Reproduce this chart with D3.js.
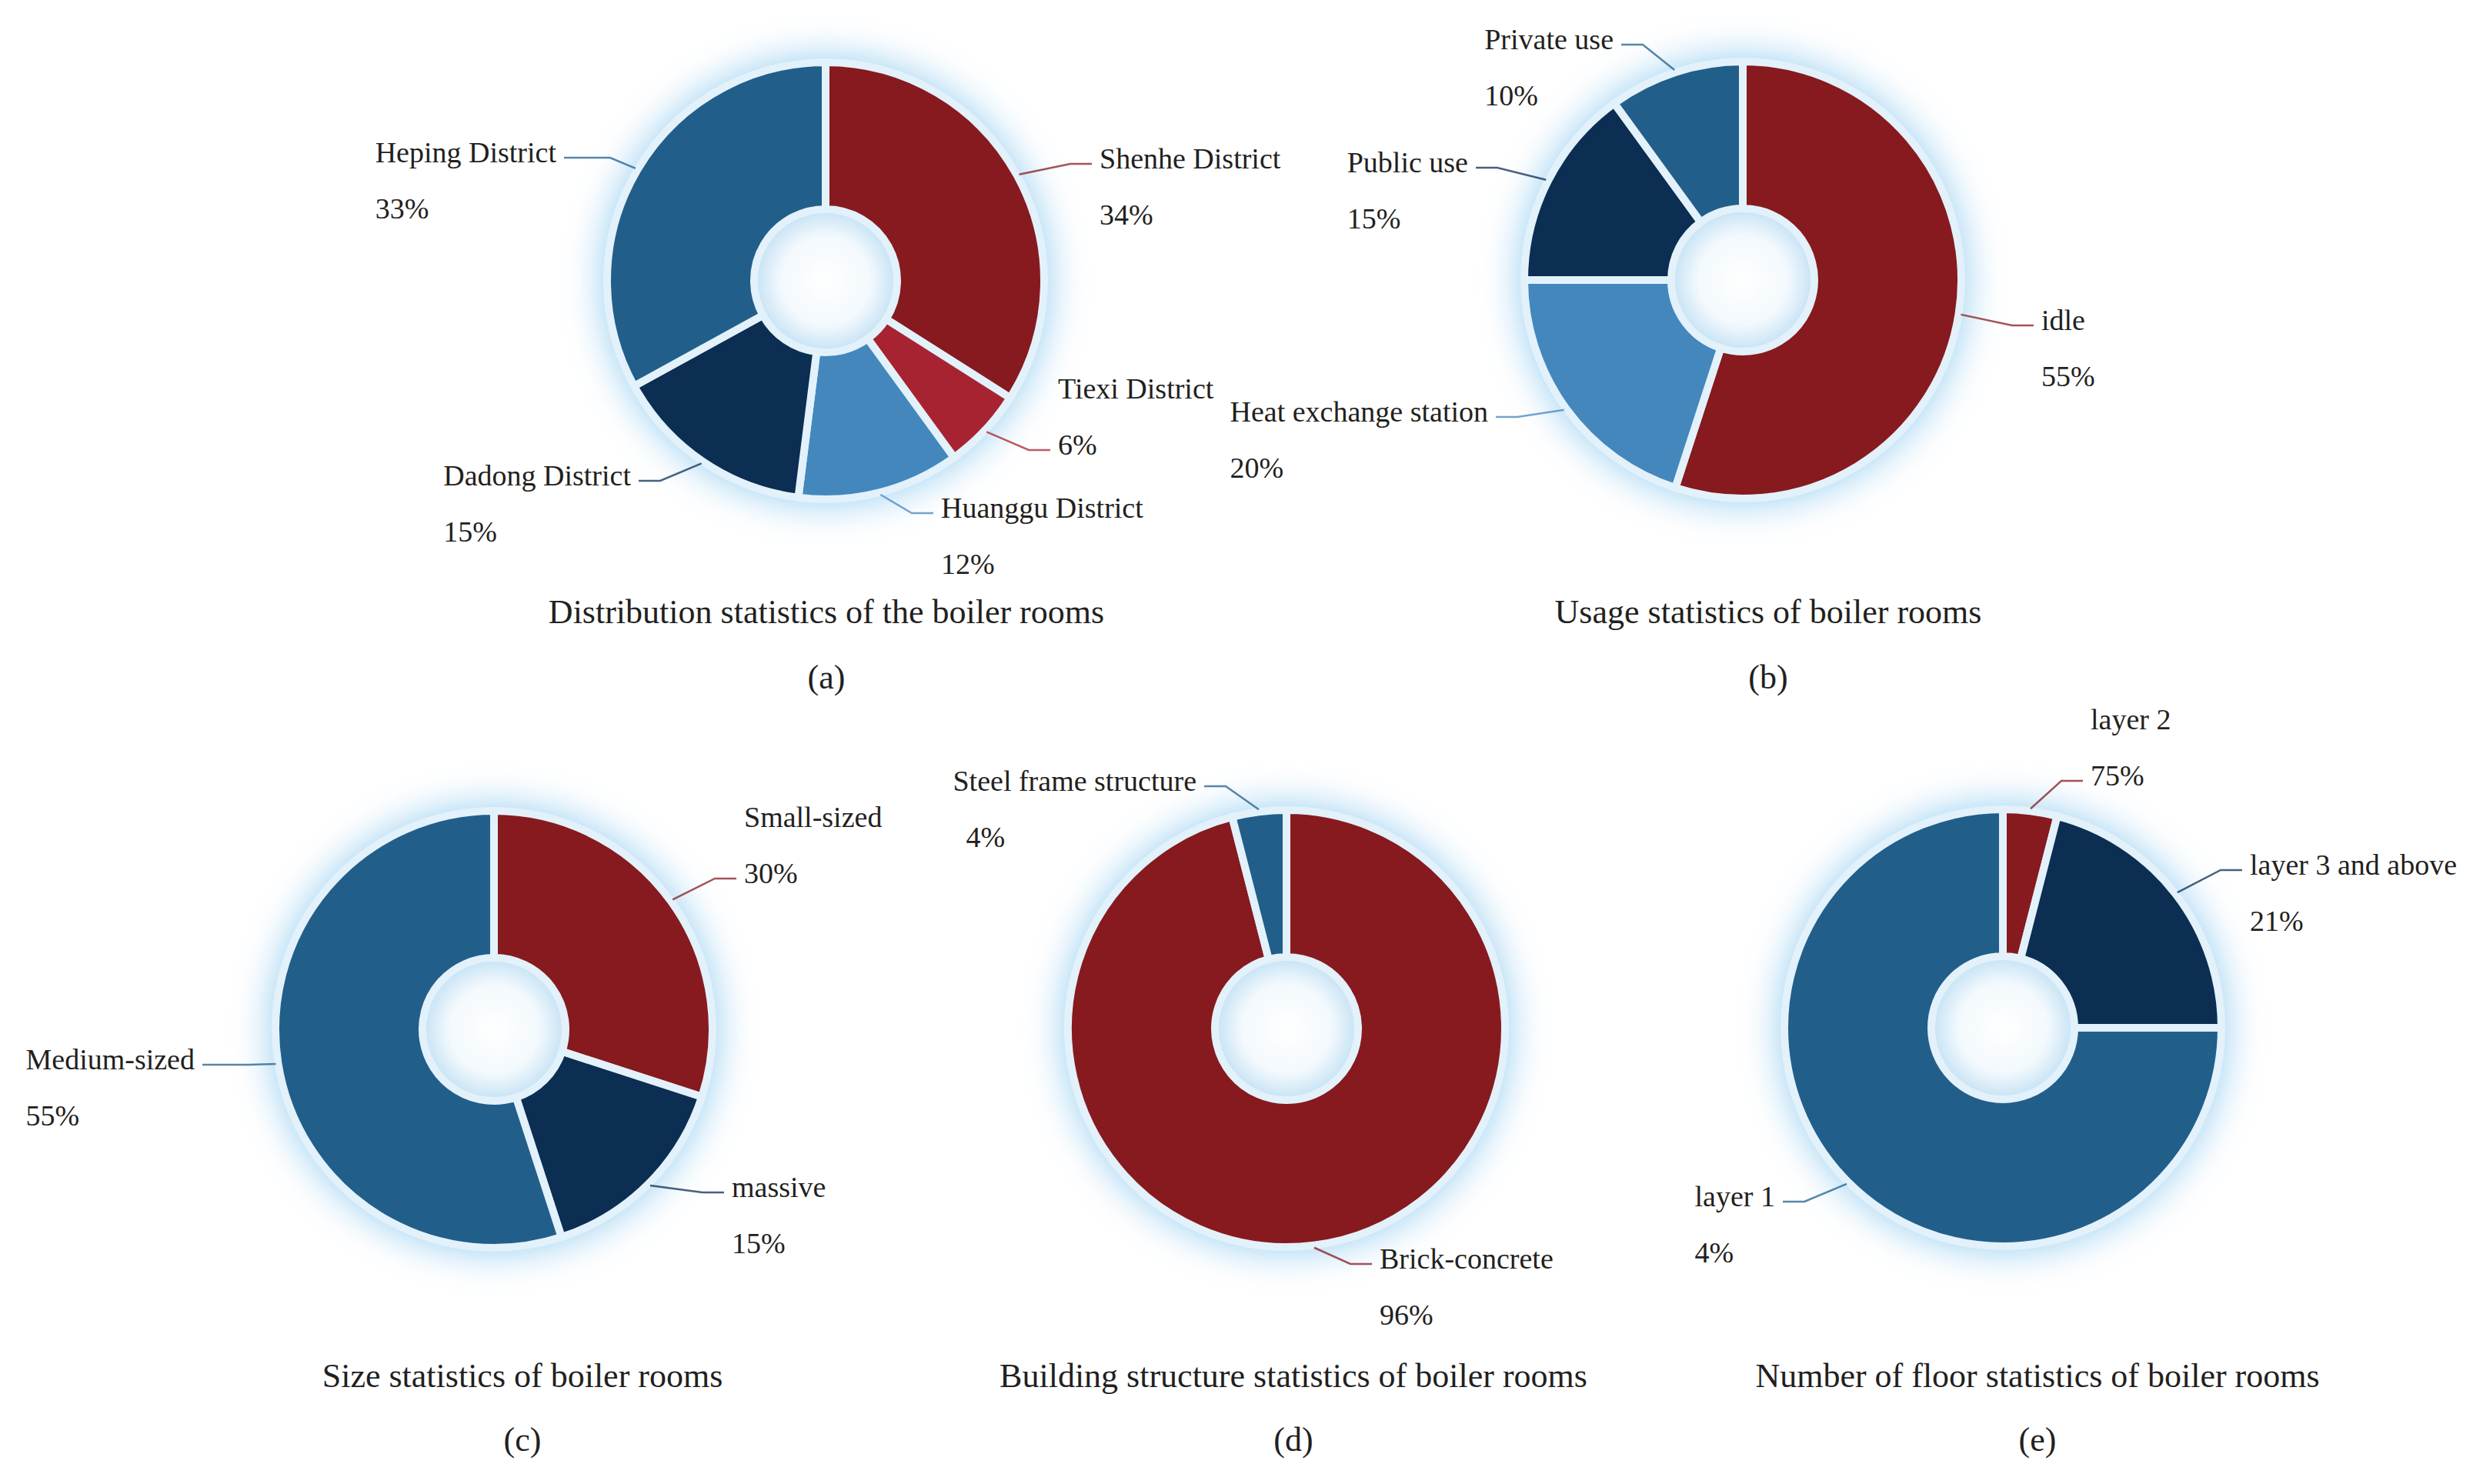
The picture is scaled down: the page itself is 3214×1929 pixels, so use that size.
<!DOCTYPE html>
<html>
<head>
<meta charset="utf-8">
<script src="https://cdn.jsdelivr.net/npm/d3@7"></script>
<style>
  html, body { margin: 0; padding: 0; background: #fff; }
  svg { display: block; }
  svg text { font-family: 'Liberation Serif', serif; fill: #231f20; }
</style>
</head>
<body>
<script>
const width = 3214;
const height = 1929;

// (a) districts
const districtNames = ['Shenhe District', 'Tiexi District', 'Huanggu District', 'Dadong District', 'Heping District'];
const districtValues = [34, 6, 12, 15, 33];

// (b) usage
const usageNames = ['idle', 'Heat exchange station', 'Public use', 'Private use'];
const usageValues = [55, 20, 15, 10];

// (c) size
const sizeNames = ['Small-sized', 'massive', 'Medium-sized'];
const sizeValues = [30, 15, 55];

// (d) structure
const structureNames = ['Brick-concrete', 'Steel frame structure'];
const structureValues = [96, 4];

// (e) floors - the printed percentages in the source don't match the slices
const floorNames = ['layer 2', 'layer 3 and above', 'layer 1'];
const floorValues = [4, 21, 75];
const floorPctText = ['75%', '21%', '4%'];

const titles = [
    'Distribution statistics of the boiler rooms',
    'Usage statistics of boiler rooms',
    'Size statistics of boiler rooms',
    'Building structure statistics of boiler rooms',
    'Number of floor statistics of boiler rooms'
];
const letters = ['(a)', '(b)', '(c)', '(d)', '(e)'];

const DARK_RED = '#861a1f';
const RED = '#a82331';
const LIGHT_BLUE = '#4387bd';
const NAVY = '#0b2e52';
const BLUE = '#225e8a';

// label anchors: side = where the text sits, x = edge nearest the pie, y = baseline of the name
const charts = [
    {
        names: districtNames, values: districtValues,
        colors: [DARK_RED, RED, LIGHT_BLUE, NAVY, BLUE],
        cx: 1073, cy: 365, titleX: 1074, titleY: 810, letterY: 895,
        labels: [
            { side: 'right', x: 1429, y: 219 },
            { side: 'right', x: 1375, y: 518, attach: 'pct' },
            { side: 'right', x: 1223, y: 673 },
            { side: 'left', x: 820, y: 631 },
            { side: 'left', x: 723, y: 211, hLen: 60 }
        ]
    },
    {
        names: usageNames, values: usageValues,
        colors: [DARK_RED, LIGHT_BLUE, NAVY, BLUE],
        cx: 2265, cy: 364, titleX: 2298, titleY: 810, letterY: 895,
        labels: [
            { side: 'right', x: 2653, y: 429 },
            { side: 'left', x: 1934, y: 548 },
            { side: 'left', x: 1908, y: 224 },
            { side: 'left', x: 2097, y: 64 }
        ]
    },
    {
        names: sizeNames, values: sizeValues,
        colors: [DARK_RED, NAVY, BLUE],
        cx: 642, cy: 1338, titleX: 679, titleY: 1803, letterY: 1886,
        labels: [
            { side: 'right', x: 967, y: 1075, attach: 'pct' },
            { side: 'right', x: 951, y: 1556 },
            { side: 'left', x: 253, y: 1390, hLen: 60 }
        ]
    },
    {
        names: structureNames, values: structureValues,
        colors: [DARK_RED, BLUE],
        cx: 1672, cy: 1337, titleX: 1681, titleY: 1803, letterY: 1886,
        labels: [
            { side: 'right', x: 1793, y: 1649 },
            { side: 'left', x: 1555, y: 1028, pctDx: 17 }
        ]
    },
    {
        names: floorNames, values: floorValues, pctText: floorPctText,
        colors: [DARK_RED, NAVY, BLUE],
        cx: 2603, cy: 1336, titleX: 2648, titleY: 1803, letterY: 1886,
        labels: [
            { side: 'right', x: 2717, y: 948, attach: 'pct' },
            { side: 'right', x: 2924, y: 1137 },
            { side: 'left', x: 2307, y: 1568 }
        ]
    }
];

const OUTER = 284;
const INNER = 93;
const PCT_GAP = 73;
const LABEL_SIZE = 38;
const TITLE_SIZE = 44;

const svg = d3.select('body').append('svg')
    .attr('width', width)
    .attr('height', height);

const defs = svg.append('defs');

const glow = defs.append('filter')
    .attr('id', 'glow')
    .attr('x', '-30%').attr('y', '-30%')
    .attr('width', '160%').attr('height', '160%');
glow.append('feGaussianBlur').attr('stdDeviation', 24);

const holeGrad = defs.append('radialGradient').attr('id', 'hole');
holeGrad.append('stop').attr('offset', '0%').attr('stop-color', '#ffffff');
holeGrad.append('stop').attr('offset', '60%').attr('stop-color', '#f3f9fd');
holeGrad.append('stop').attr('offset', '100%').attr('stop-color', '#bfdff3');

const getPieData = d3.pie().sort(null).value(d => d.value);

const arcCreator = d3.arc()
    .innerRadius(INNER)
    .outerRadius(OUTER);

charts.forEach((c, ci) => {
    const rows = c.names.map((name, i) => ({
        name,
        value: c.values[i],
        pct: c.pctText ? c.pctText[i] : c.values[i] + '%'
    }));
    const pieData = getPieData(rows);

    const g = svg.append('g')
        .attr('transform', `translate(${c.cx}, ${c.cy})`);

    // halo behind the donut
    g.append('circle')
        .attr('r', OUTER + 8)
        .attr('fill', '#8fcaef')
        .attr('opacity', 0.85)
        .attr('filter', 'url(#glow)');

    g.append('circle')
        .attr('r', INNER + 4)
        .attr('fill', 'url(#hole)');

    g.selectAll('path.slice')
        .data(pieData)
        .enter()
        .append('path')
        .attr('class', 'slice')
        .attr('d', arcCreator)
        .attr('fill', (d, i) => c.colors[i])
        .attr('stroke', '#e2f1fa')
        .attr('stroke-width', 10);

    // labels + leader lines
    const lab = svg.append('g')
        .style('font-size', LABEL_SIZE + 'px');

    pieData.forEach((d, i) => {
        const L = c.labels[i];
        const nameText = lab.append('text')
            .attr('x', L.x)
            .attr('y', L.y)
            .attr('text-anchor', L.side === 'right' ? 'start' : 'end')
            .text(d.data.name);
        const w = nameText.node().getComputedTextLength();
        const startX = L.side === 'right' ? L.x : L.x - w;
        lab.append('text')
            .attr('x', startX + (L.pctDx || 0))
            .attr('y', L.y + PCT_GAP)
            .text(d.data.pct);

        // line from the middle of the slice edge to the text
        const mid = (d.startAngle + d.endAngle) / 2;
        const sx = c.cx + (OUTER + 3) * Math.sin(mid);
        const sy = c.cy - (OUTER + 3) * Math.cos(mid);
        const ly = (L.attach === 'pct' ? L.y + PCT_GAP : L.y) - 6;
        const hLen = L.hLen || 28;
        let ex, bx;
        if (L.side === 'right') {
            ex = L.x - 10;
            bx = ex - hLen;
        } else {
            ex = L.x + 10;
            bx = ex + hLen;
        }
        svg.append('path')
            .attr('d', d3.line()([[sx, sy], [bx, ly], [ex, ly]]))
            .attr('fill', 'none')
            .attr('stroke', c.colors[i])
            .attr('stroke-opacity', 0.75)
            .attr('stroke-width', 2.5);
    });

    svg.append('text')
        .attr('x', c.titleX)
        .attr('y', c.titleY)
        .attr('text-anchor', 'middle')
        .style('font-size', TITLE_SIZE + 'px')
        .text(titles[ci]);

    svg.append('text')
        .attr('x', c.titleX)
        .attr('y', c.letterY)
        .attr('text-anchor', 'middle')
        .style('font-size', TITLE_SIZE + 'px')
        .text(letters[ci]);
});
</script>
</body>
</html>
